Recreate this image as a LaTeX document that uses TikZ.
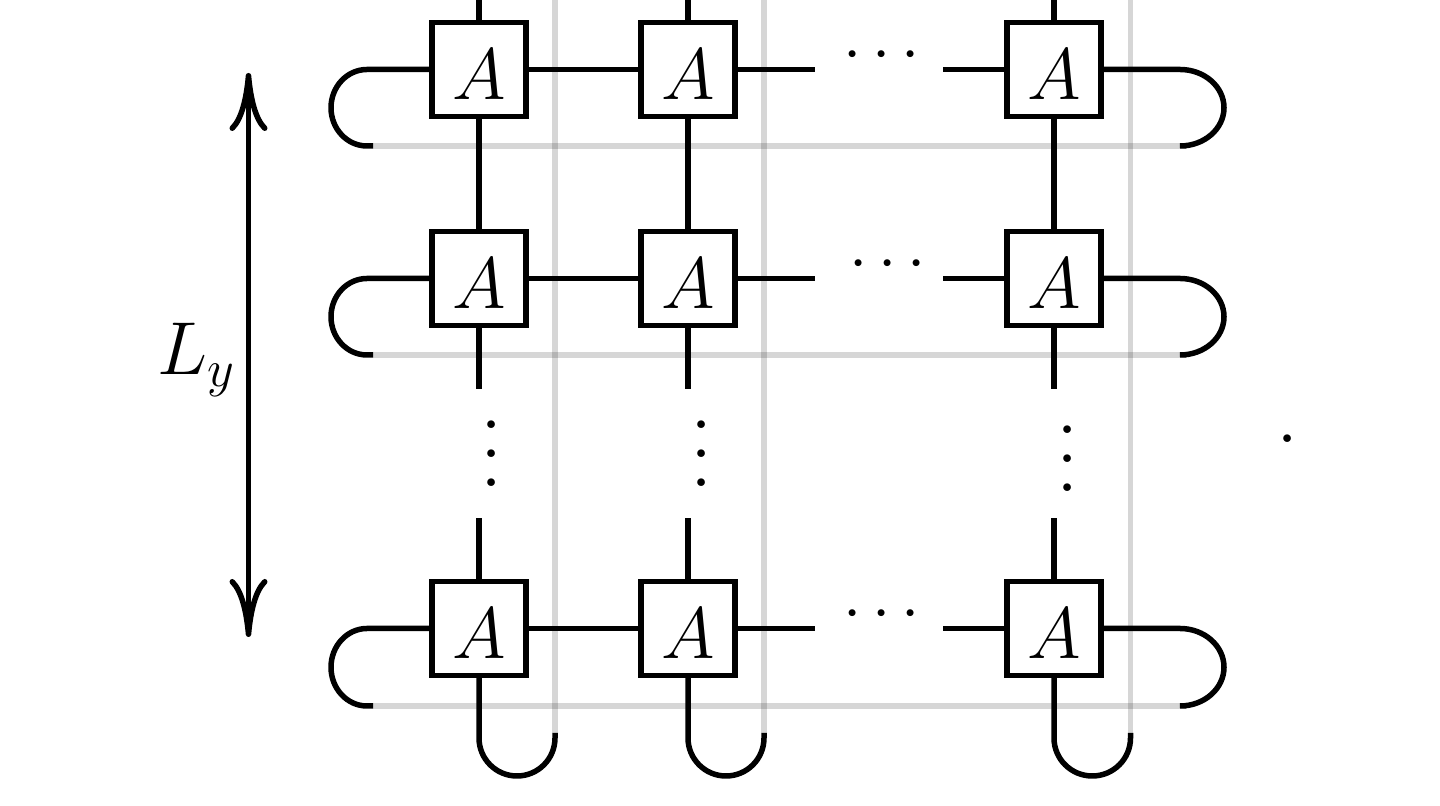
\documentclass[tikz,border=0pt]{standalone}
\usepackage{amsmath}
\usepackage{amsfonts}
\usepackage{amssymb}
\usepackage{tikz}
\usetikzlibrary{arrows.meta}
\tikzset{
	tensor/.style={draw,line width=0.055cm,minimum size=0.94cm,inner sep=0pt,font=\huge,text height=16.8pt,text depth=0pt},
	wire/.style={line width=0.055cm},
	ghost/.style={line width=0.055cm,black,opacity=0.16},
	hdots/.style={inner sep=0pt,scale=1.86},
	vdots/.style={inner sep=0pt,scale=2.06}
}
\begin{document}
\begin{tikzpicture}
	\useasboundingbox (0,0) rectangle (14.4,8.06);
	% free ends
	\coordinate (g1) at (3.73,6.60);
	\coordinate (g2) at (3.73,4.51);
	\coordinate (g3) at (3.73,1.00);
	\coordinate (h1) at (11.86,6.60);
	\coordinate (h2) at (11.86,4.51);
	\coordinate (h3) at (11.86,1.00);
	\coordinate (v1) at (5.55,8.06);
	\coordinate (v2) at (7.64,8.06);
	\coordinate (v3) at (11.305,8.06);
	\coordinate (w1) at (5.55,0.73);
	\coordinate (w2) at (7.64,0.73);
	\coordinate (w3) at (11.305,0.73);
	\draw[ghost] (g1) -- (h1);
	\draw[ghost] (g2) -- (h2);
	\draw[ghost] (g3) -- (h3);
	\draw[ghost] (v1) -- (w1);
	\draw[ghost] (v2) -- (w2);
	\draw[ghost] (v3) -- (w3);
	% tensors
	\node[tensor] (a11) at (4.79,7.365) {$A$};
	\node[tensor] (a12) at (6.88,7.365) {$A$};
	\node[tensor] (a13) at (10.54,7.365) {$A$};
	\node[tensor] (a21) at (4.79,5.275) {$A$};
	\node[tensor] (a22) at (6.88,5.275) {$A$};
	\node[tensor] (a23) at (10.54,5.275) {$A$};
	\node[tensor] (a31) at (4.79,1.775) {$A$};
	\node[tensor] (a32) at (6.88,1.775) {$A$};
	\node[tensor] (a33) at (10.54,1.775) {$A$};
	% horizontal bonds
	\draw[wire] (a11) -- (a12);
	\draw[wire] (a21) -- (a22);
	\draw[wire] (a31) -- (a32);
	\draw[wire] (a12.east) -- ++(0.77,0);
	\draw[wire] (a22.east) -- ++(0.77,0);
	\draw[wire] (a32.east) -- ++(0.77,0);
	\draw[wire] (a13.west) -- ++(-0.61,0);
	\draw[wire] (a23.west) -- ++(-0.61,0);
	\draw[wire] (a33.west) -- ++(-0.61,0);
	% vertical bonds
	\draw[wire] (a11.north) -- (a11.north |- v1);
	\draw[wire] (a12.north) -- (a12.north |- v1);
	\draw[wire] (a13.north) -- (a13.north |- v1);
	\draw[wire] (a11) -- (a21);
	\draw[wire] (a12) -- (a22);
	\draw[wire] (a13) -- (a23);
	\draw[wire] (a21.south) -- ++(0,-0.61);
	\draw[wire] (a22.south) -- ++(0,-0.61);
	\draw[wire] (a23.south) -- ++(0,-0.61);
	\draw[wire] (a31.north) -- ++(0,0.61);
	\draw[wire] (a32.north) -- ++(0,0.61);
	\draw[wire] (a33.north) -- ++(0,0.61);
	% periodic loops
	\draw[wire] (a11.west) -- (3.67,7.365) arc[start angle=90,end angle=270,x radius=0.36,y radius=0.3825] -- (g1);
	\draw[wire] (a21.west) -- (3.67,5.275) arc[start angle=90,end angle=270,x radius=0.36,y radius=0.3825] -- (g2);
	\draw[wire] (a31.west) -- (3.67,1.775) arc[start angle=90,end angle=270,x radius=0.36,y radius=0.3875] -- (g3);
	\draw[wire] (a13.east) -- (11.80,7.365) arc[start angle=90,end angle=-90,x radius=0.44,y radius=0.3825] -- (h1);
	\draw[wire] (a23.east) -- (11.80,5.275) arc[start angle=90,end angle=-90,x radius=0.44,y radius=0.3825] -- (h2);
	\draw[wire] (a33.east) -- (11.80,1.775) arc[start angle=90,end angle=-90,x radius=0.44,y radius=0.3875] -- (h3);
	\draw[wire] (a31.south) -- (4.79,0.68) arc[start angle=180,end angle=360,x radius=0.38,y radius=0.38] -- (w1);
	\draw[wire] (a32.south) -- (6.88,0.68) arc[start angle=180,end angle=360,x radius=0.38,y radius=0.38] -- (w2);
	\draw[wire] (a33.south) -- (10.54,0.68) arc[start angle=180,end angle=360,x radius=0.3825,y radius=0.38] -- (w3);
	% dots
	\node[hdots] (d1) at (8.87,7.50) {$\cdots$};
	\node[hdots] (d2) at (8.93,5.41) {$\cdots$};
	\node[hdots] (d3) at (8.87,1.91) {$\cdots$};
	\node[vdots] (e1) at (4.92,3.74) {$\vdots$};
	\node[vdots] (e2) at (7.02,3.74) {$\vdots$};
	\node[vdots] (e3) at (10.68,3.69) {$\vdots$};
	\node[vdots] (stop) at (12.88,3.67) {$.$};
	% size arrow
	\coordinate (top) at (2.485,7.33);
	\coordinate (bot) at (2.485,1.69);
	\draw[wire,{Computer Modern Rightarrow[length=0.58cm,width=0.38cm]}-{Computer Modern Rightarrow[length=0.58cm,width=0.38cm]}] (top) -- (bot);
	\node[font=\huge,scale=1.03] (ly) at (1.97,4.46) {$L_y$};
\end{tikzpicture}
\end{document}
